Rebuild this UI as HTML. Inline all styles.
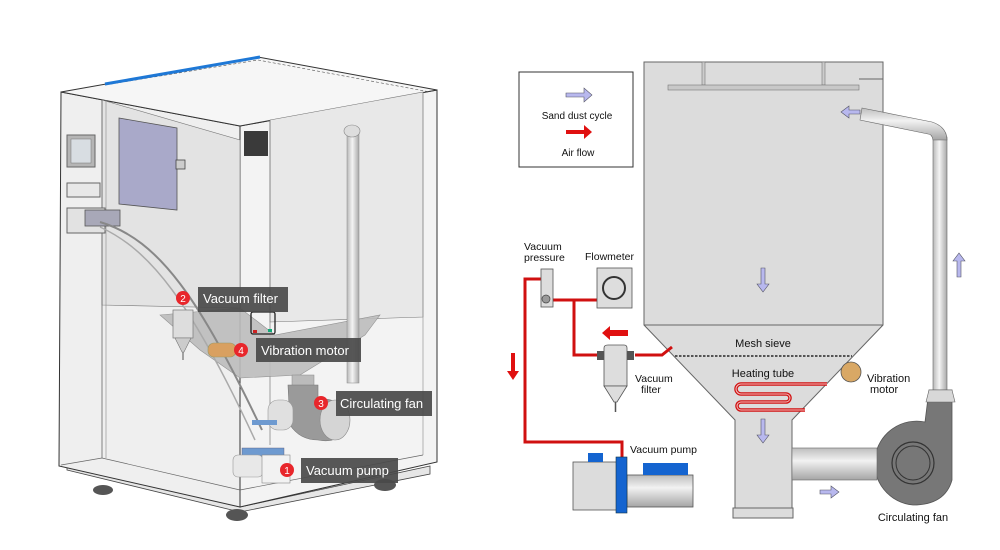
<!DOCTYPE html>
<html><head><meta charset="utf-8"><style>
html,body{margin:0;padding:0;background:#fff;width:1000px;height:550px;overflow:hidden}
svg{display:block}
text{font-family:"Liberation Sans",Arial,sans-serif}
</style></head><body>
<svg width="1000" height="550" viewBox="0 0 1000 550" xmlns="http://www.w3.org/2000/svg">
<defs>
<linearGradient id="pv" x1="0" x2="1" y1="0" y2="0"><stop offset="0" stop-color="#b8b8b8"/><stop offset=".45" stop-color="#f4f4f4"/><stop offset="1" stop-color="#a8a8a8"/></linearGradient>
<linearGradient id="ph" x1="0" x2="0" y1="0" y2="1"><stop offset="0" stop-color="#bdbdbd"/><stop offset=".4" stop-color="#f2f2f2"/><stop offset="1" stop-color="#a5a5a5"/></linearGradient>
</defs>
<!-- ===== LEFT 3D CABINET ===== -->
<polygon points="67,470 240,512 430,474 430,466 240,507 67,466" fill="#e6e6e6" stroke="#444" stroke-width="0.8"/>
<polygon points="61,92 240,126 240,507 59,466" fill="#efefef" stroke="#333" stroke-width="1"/>
<polygon points="240,126 437,90 437,462 240,507" fill="#f3f3f3" stroke="#333" stroke-width="1"/>
<polygon points="61,92 258,57 437,90 240,126" fill="#f6f6f6" stroke="#333" stroke-width="1"/>
<polyline points="105,85 258,60 430,92" fill="none" stroke="#555" stroke-width="0.6" stroke-dasharray="3,2"/>
<line x1="105" y1="84" x2="260" y2="57" stroke="#1e78d6" stroke-width="3"/>
<!-- inner back wall -->
<polygon points="102,100 240,140 240,308 102,305" fill="#e3e3e3" stroke="#777" stroke-width="0.6"/>
<polygon points="270,120 423,92 423,317 270,322" fill="#e8e8e8" stroke="#777" stroke-width="0.6"/>
<line x1="102" y1="100" x2="102" y2="458" stroke="#666" stroke-width="0.8"/>
<line x1="106" y1="100" x2="106" y2="458" stroke="#888" stroke-width="0.6"/>
<line x1="423" y1="92" x2="423" y2="455" stroke="#888" stroke-width="0.6"/>
<line x1="270" y1="120" x2="270" y2="445" stroke="#777" stroke-width="0.7"/>
<polyline points="61,465 102,458 240,490" fill="none" stroke="#666" stroke-width="0.7"/>
<polyline points="240,490 423,455" fill="none" stroke="#666" stroke-width="0.7"/>
<!-- hopper -->
<polygon points="160,315 240,308 275,335 380,315 365,335 300,375 240,378 200,350" fill="#bdbdbd" stroke="#888" stroke-width="0.6" opacity="0.9"/>
<!-- purple box -->
<polygon points="119,118 177,128 177,210 119,204" fill="#a9a9c9" stroke="#555" stroke-width="0.8"/>
<rect x="176" y="160" width="9" height="9" fill="#ccc" stroke="#444" stroke-width="0.8"/>
<!-- screen & panels -->
<rect x="67" y="135" width="28" height="32" fill="#b5b5b5" stroke="#666"/>
<rect x="71" y="139" width="20" height="24" fill="#d8dde2" stroke="#777" stroke-width="0.5"/>
<rect x="67" y="183" width="33" height="14" fill="#e8e8e8" stroke="#666"/>
<rect x="67" y="208" width="38" height="25" fill="#e2e2e2" stroke="#666"/>
<rect x="85" y="210" width="35" height="16" fill="#a8a8b8" stroke="#555" stroke-width="0.8"/>
<rect x="244" y="131" width="24" height="25" fill="#3a3a3a"/>
<!-- hoses -->
<path d="M100,222 C160,240 200,300 262,430" fill="none" stroke="#888" stroke-width="2"/>
<path d="M100,227 C150,250 190,300 255,440" fill="none" stroke="#aaa" stroke-width="1.5"/>
<!-- vertical pipe -->
<rect x="347" y="133" width="12" height="250" fill="url(#pv)" stroke="#888" stroke-width="0.5"/>
<ellipse cx="352" cy="131" rx="8" ry="6" fill="#ddd" stroke="#888" stroke-width="0.6"/>
<!-- filter left -->
<rect x="173" y="310" width="20" height="28" fill="#ddd" stroke="#777" stroke-width="0.7"/>
<polygon points="175,338 191,338 184,352 182,352" fill="#ccc" stroke="#777" stroke-width="0.6"/>
<line x1="183" y1="352" x2="183" y2="360" stroke="#555"/>
<!-- vibration motor -->
<rect x="208" y="343" width="28" height="14" rx="6" fill="#d9a060" stroke="#996" stroke-width="0.6"/>
<rect x="253" y="330" width="4" height="3" fill="#c22"/><rect x="268" y="329" width="4" height="3" fill="#1a7"/>
<rect x="251" y="312" width="24" height="22" rx="2" fill="none" stroke="#222" stroke-width="1.3"/>
<!-- fan -->
<rect x="292" y="375" width="22" height="12" fill="#bbb" stroke="#888" stroke-width="0.5"/>
<path d="M288,385 L318,385 L318,400 Q340,395 345,420 Q343,445 318,440 Q300,440 290,425 Z" fill="#9a9a9a" stroke="#777" stroke-width="0.6"/>
<ellipse cx="335" cy="420" rx="15" ry="20" fill="#d5d5d5" stroke="#888" stroke-width="0.6"/>
<rect x="268" y="400" width="25" height="30" rx="10" fill="#e0e0e0" stroke="#999" stroke-width="0.6"/>
<!-- vacuum pump -->
<rect x="252" y="420" width="25" height="5" fill="#6e9ad0"/>
<rect x="242" y="448" width="42" height="10" fill="#6e9ad0" stroke="#557" stroke-width="0.4"/>
<rect x="233" y="455" width="30" height="22" rx="5" fill="#e8e8e8" stroke="#999" stroke-width="0.6"/>
<rect x="262" y="455" width="28" height="28" fill="#f2f2f2" stroke="#888" stroke-width="0.6"/>
<!-- feet -->
<ellipse cx="103" cy="490" rx="10" ry="5" fill="#555"/>
<ellipse cx="237" cy="515" rx="11" ry="6" fill="#555"/>
<ellipse cx="385" cy="485" rx="11" ry="6" fill="#555"/>
<!-- labels -->
<g font-size="13" fill="#fff">
<rect x="198" y="287" width="90" height="25" fill="#4a4a4a" opacity="0.92"/>
<text x="203" y="303">Vacuum filter</text>
<circle cx="183" cy="298" r="7" fill="#e8262b"/><text x="183" y="302" font-size="10" text-anchor="middle">2</text>
<rect x="256" y="338" width="105" height="24" fill="#4a4a4a" opacity="0.92"/>
<text x="261" y="355">Vibration motor</text>
<circle cx="241" cy="350" r="7" fill="#e8262b"/><text x="241" y="354" font-size="10" text-anchor="middle">4</text>
<rect x="336" y="391" width="96" height="25" fill="#4a4a4a" opacity="0.92"/>
<text x="340" y="408">Circulating fan</text>
<circle cx="321" cy="403" r="7" fill="#e8262b"/><text x="321" y="407" font-size="10" text-anchor="middle">3</text>
<rect x="301" y="458" width="97" height="25" fill="#4a4a4a" opacity="0.92"/>
<text x="306" y="475">Vacuum pump</text>
<circle cx="287" cy="470" r="7" fill="#e8262b"/><text x="287" y="474" font-size="10" text-anchor="middle">1</text>
</g>

<!-- ===== RIGHT SCHEMATIC ===== -->
<rect x="519" y="72" width="114" height="95" fill="#fff" stroke="#333" stroke-width="1"/>
<path d="M566,93 h18 v-5 l8,7 l-8,7 v-5 h-18 z" fill="#b8b8ee" stroke="#556" stroke-width="0.6"/>
<text x="577" y="119" font-size="10" text-anchor="middle" fill="#111">Sand dust cycle</text>
<path d="M566,130 h18 v-5 l8,7 l-8,7 v-5 h-18 z" fill="#e01010"/>
<text x="578" y="156" font-size="10" text-anchor="middle" fill="#111">Air flow</text>

<!-- tank -->
<polygon points="644,62 883,62 883,325 792,420 792,510 735,510 735,420 644,325" fill="#dcdcdc" stroke="#666" stroke-width="1"/>
<line x1="644" y1="325" x2="883" y2="325" stroke="#666"/>
<polyline points="735,420 735,510" stroke="#666"/>
<rect x="733" y="508" width="60" height="10" fill="#dcdcdc" stroke="#666"/>
<rect x="702" y="62" width="3" height="23" fill="#ccc" stroke="#777" stroke-width="0.6"/>
<rect x="822" y="62" width="3" height="23" fill="#ccc" stroke="#777" stroke-width="0.6"/>
<rect x="668" y="85" width="191" height="5" fill="#c8c8c8" stroke="#777" stroke-width="0.6"/>
<line x1="859" y1="79" x2="883" y2="79" stroke="#666"/>
<line x1="675" y1="356" x2="852" y2="356" stroke="#555" stroke-width="2" stroke-dasharray="2.5,1.5"/>
<text x="763" y="347" font-size="11" text-anchor="middle" fill="#111">Mesh sieve</text>
<text x="763" y="377" font-size="11" text-anchor="middle" fill="#111">Heating tube</text>
<path d="M827,384 H741 a5,5 0 0 0 0,10 H786 a4,4 0 0 1 0,8 H741 a4,4 0 0 0 0,8 H805" fill="none" stroke="#d01010" stroke-width="3.5"/>
<path d="M827,384 H741 a5,5 0 0 0 0,10 H786 a4,4 0 0 1 0,8 H741 a4,4 0 0 0 0,8 H805" fill="none" stroke="#f3c0c0" stroke-width="1"/>
<circle cx="851" cy="372" r="10" fill="#d9a865" stroke="#555" stroke-width="0.8"/>
<text x="867" y="382" font-size="11" fill="#111">Vibration</text>
<text x="870" y="393" font-size="11" fill="#111">motor</text>

<!-- return pipe -->
<rect x="933" y="137" width="14" height="255" fill="url(#pv)" stroke="#666" stroke-width="0.6"/>
<path d="M862,108 L932,122 Q947,127 947,140 L933,140 Q932,134 928,134 L860,120 Z" fill="url(#ph)" stroke="#666" stroke-width="0.6"/>
<!-- fan -->
<path d="M929,390 L952,390 L952,480 Q945,505 913,505 A42,42 0 1 1 925,422 L929,390 Z" fill="#777" stroke="#555" stroke-width="0.8"/>
<polygon points="929,390 952,390 955,402 926,402" fill="#d8d8d8" stroke="#666" stroke-width="0.6"/>
<rect x="792" y="448" width="85" height="32" fill="url(#ph)" stroke="#666" stroke-width="0.6"/>
<circle cx="913" cy="463" r="21" fill="none" stroke="#333" stroke-width="1.2"/>
<circle cx="913" cy="463" r="17" fill="none" stroke="#333" stroke-width="1"/>
<text x="913" y="521" font-size="11" text-anchor="middle" fill="#111">Circulating fan</text>

<!-- blue arrows -->
<g fill="#b8b8ee" stroke="#556" stroke-width="0.6">
<path d="M860,110 h-11 v-4 l-8,6 l8,6 v-4 h11 z"/>
<path d="M761,268 v16 h-4 l6,8 l6,-8 h-4 v-16 z"/>
<path d="M761,419 v16 h-4 l6,8 l6,-8 h-4 v-16 z"/>
<path d="M957,277 v-16 h-4 l6,-8 l6,8 h-4 v16 z"/>
<path d="M820,490 h11 v-4 l8,6 l-8,6 v-4 h-11 z"/>
</g>

<!-- left instruments -->
<text x="524" y="250" font-size="10.5" fill="#111">Vacuum</text>
<text x="524" y="261" font-size="10.5" fill="#111">pressure</text>
<text x="585" y="260" font-size="10.5" fill="#111">Flowmeter</text>
<g fill="none" stroke="#d01010" stroke-width="3">
<polyline points="541,279 525,279 525,442 622,442 622,458"/>
<polyline points="553,300 597,300"/>
<polyline points="574,300 574,355 597,355"/>
<polyline points="635,355 662,355 672,347"/>
</g>
<rect x="541" y="269" width="12" height="38" fill="#ddd" stroke="#555" stroke-width="0.8"/>
<circle cx="546" cy="299" r="4" fill="#999" stroke="#444" stroke-width="0.7"/>
<rect x="597" y="268" width="35" height="40" fill="#ddd" stroke="#555" stroke-width="0.8"/>
<circle cx="614" cy="288" r="11" fill="none" stroke="#333" stroke-width="2"/>
<rect x="597" y="351" width="7" height="9" fill="#555"/><rect x="627" y="351" width="7" height="9" fill="#555"/>
<path d="M604,348 Q604,345 608,345 L624,345 Q627,345 627,348 L627,386 L604,386 Z" fill="#ddd" stroke="#555" stroke-width="0.8"/>
<polygon points="604,386 627,386 617,402 614,402" fill="#ddd" stroke="#555" stroke-width="0.8"/>
<line x1="615.5" y1="402" x2="615.5" y2="412" stroke="#555" stroke-width="1.5"/>
<text x="635" y="382" font-size="10.5" fill="#111">Vacuum</text>
<text x="641" y="393" font-size="10.5" fill="#111">filter</text>
<path d="M628,330 h-18 v-4 l-8,7 l8,7 v-4 h18 z" fill="#e01010"/>
<path d="M511,353 v18 h-4 l6,9 l6,-9 h-4 v-18 z" fill="#e01010"/>

<!-- vacuum pump -->
<rect x="573" y="462" width="44" height="48" fill="#dcdcdc" stroke="#555" stroke-width="0.8"/>
<rect x="588" y="453" width="15" height="9" fill="#1464d0"/>
<rect x="627" y="475" width="66" height="32" fill="url(#ph)" stroke="#555" stroke-width="0.8"/>
<rect x="643" y="463" width="45" height="12" fill="#1464d0"/>
<rect x="616" y="457" width="11" height="56" fill="#1464d0" stroke="#134" stroke-width="0.6"/>
<text x="630" y="453" font-size="10.5" fill="#111">Vacuum pump</text>
</svg>
</body></html>
